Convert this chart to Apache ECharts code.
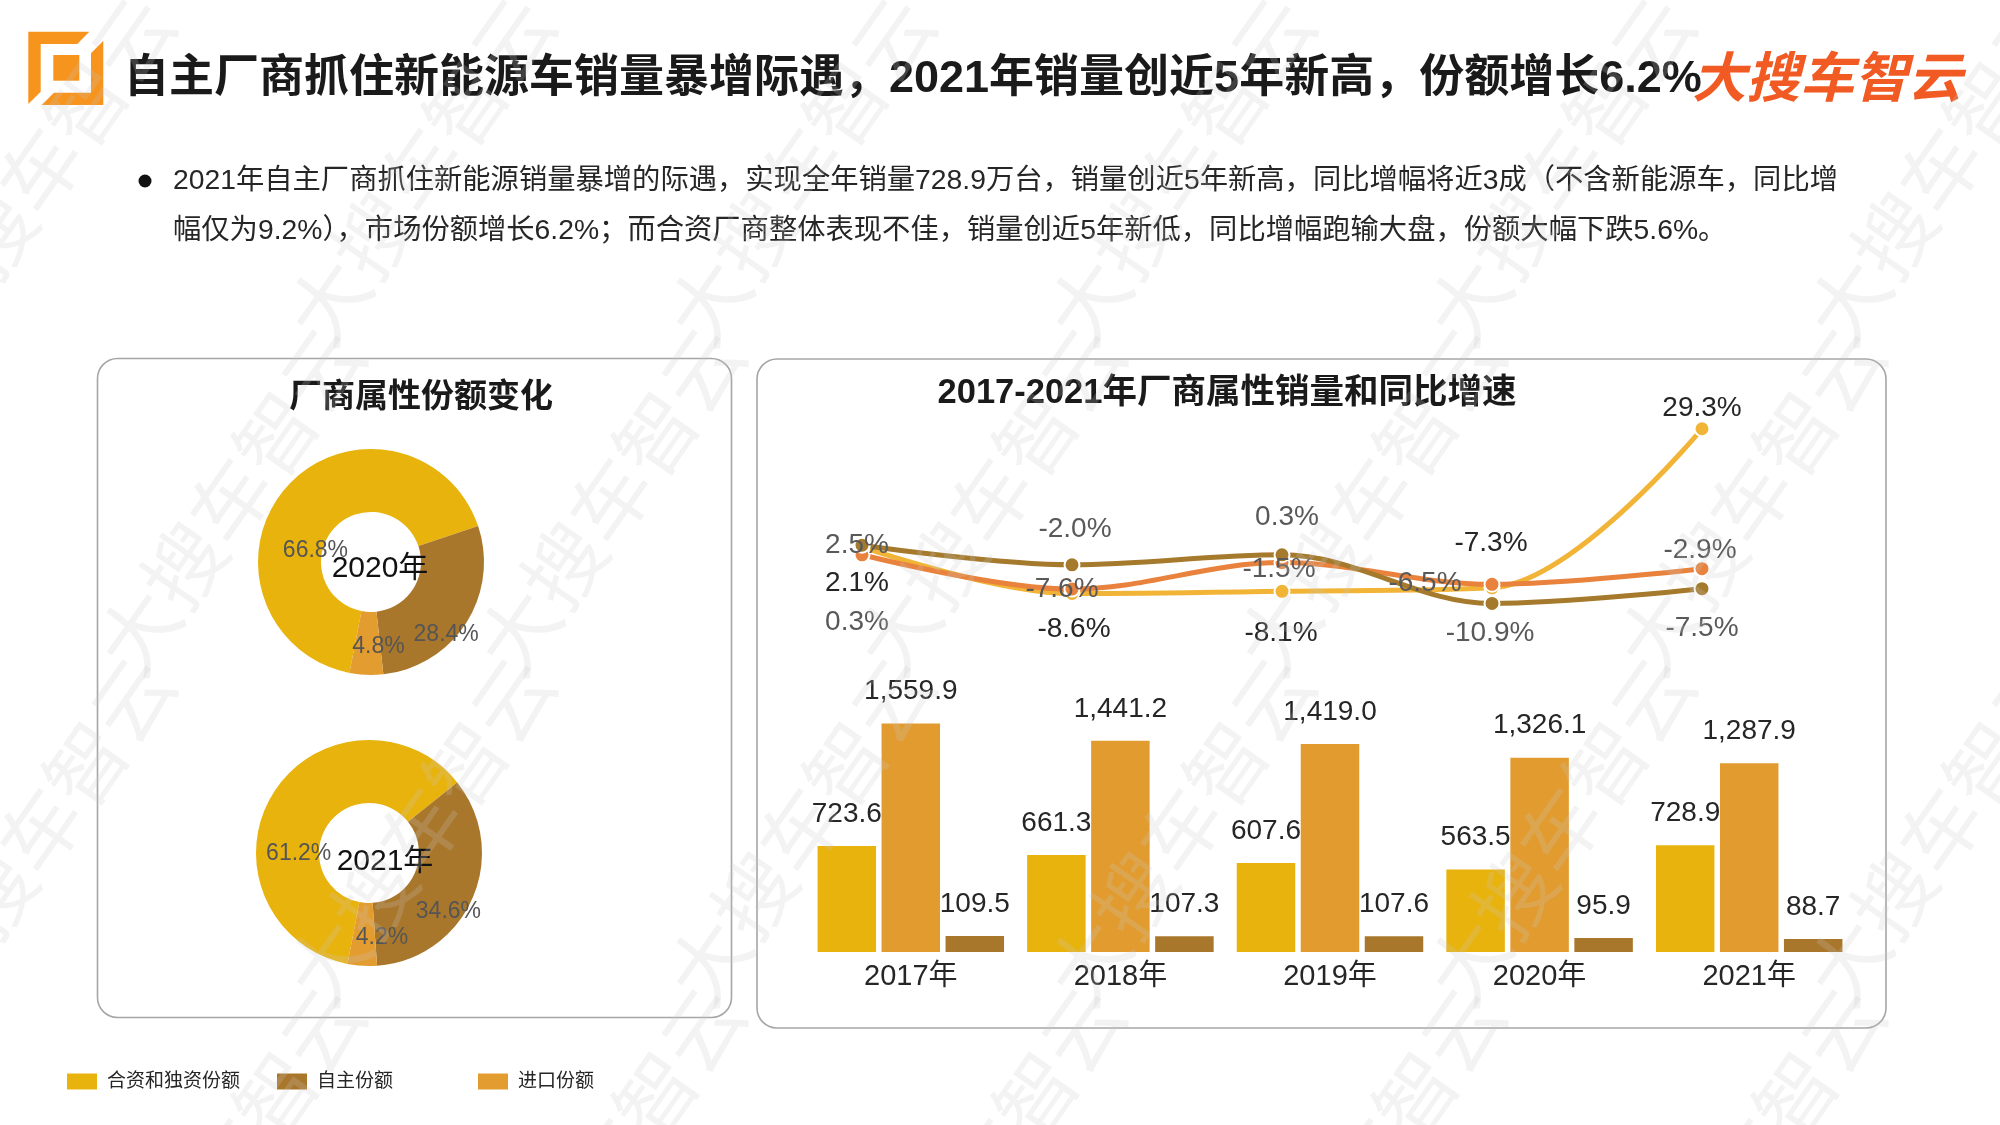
<!DOCTYPE html>
<html><head><meta charset="utf-8">
<script src="https://cdn.jsdelivr.net/npm/echarts/dist/echarts.min.js"></script>
<style>html,body{margin:0;padding:0;background:#fff}#c{width:2000px;height:1125px}</style>
</head><body><div id="c"></div>
<script>
// ---------- data ----------
const years = ['2017年', '2018年', '2019年', '2020年', '2021年'];
const salesDomestic = [723.6, 661.3, 607.6, 563.5, 728.9];      // 自主
const salesJV = [1559.9, 1441.2, 1419.0, 1326.1, 1287.9];       // 合资
const salesImport = [109.5, 107.3, 107.6, 95.9, 88.7];          // 进口
const growthDomestic = [2.1, -8.6, -8.1, -7.3, 29.3];
const growthJV = [0.3, -7.6, -1.5, -6.5, -2.9];
const growthImport = [2.5, -2.0, 0.3, -10.9, -7.5];
const shareNames = ['合资和独资份额', '自主份额', '进口份额'];
const share2020 = [66.8, 28.4, 4.8];
const share2021 = [61.2, 34.6, 4.2];
const headline = '自主厂商抓住新能源车销量暴增际遇，2021年销量创近5年新高，份额增长6.2%';
const bodyLine1 = '2021年自主厂商抓住新能源销量暴增的际遇，实现全年销量728.9万台，销量创近5年新高，同比增幅将近3成（不含新能源车，同比增';
const bodyLine2 = '幅仅为9.2%），市场份额增长6.2%；而合资厂商整体表现不佳，销量创近5年新低，同比增幅跑输大盘，份额大幅下跌5.6%。';

// ---------- styling / layout ----------
const FONT = "'Liberation Sans','Noto Sans CJK SC',sans-serif";
const C_YEL = '#E8B30C', C_ORG = '#E29B2E', C_BRN = '#A9772B';
const L_YEL = '#F2B436', L_ORG = '#E8823C', L_BRN = '#A57A2C';
const shareColors = [C_YEL, C_BRN, '#E39C30'];

// label offsets (pixels) for line points
const offY = [[-5, 36], [2, 36], [-1, 42], [-1, -45], [0, -20]];
const offO = [[-5, 67], [-10, 0], [-3, 7], [-67, -1], [-2, -18]];
const offB = [[-5, 0], [3, -36], [5, -38], [-2, 30], [0, 40]];
// pie label shifts from the default inside position
const pieOff2020 = [[8, 44], [4, 27], [11, 0]];
const pieOff2021 = [[2, 44], [2, 25], [18, 0]];

function lineSeries(name, vals, color, offs, labelColor) {
  return {
    name: name, type: 'line', xAxisIndex: 0, yAxisIndex: 0, smooth: 0.35,
    symbol: 'circle', symbolSize: 15,
    lineStyle: { width: 5, color: color },
    itemStyle: { color: color, borderColor: '#fff', borderWidth: 2 },
    data: vals.map((v, i) => ({
      value: v,
      label: { show: true, position: 'inside', offset: offs[i] }
    })),
    label: {
      show: true, fontSize: 28, fontFamily: FONT, color: labelColor,
      formatter: p => p.value.toFixed(1) + '%'
    },
    z: 3
  };
}

function barSeries(name, vals, color) {
  return {
    name: name, type: 'bar', xAxisIndex: 1, yAxisIndex: 1,
    barWidth: 58.5, barGap: '9.4%',
    itemStyle: { color: color },
    label: {
      show: true, position: 'top', distance: 18, fontSize: 28, fontFamily: FONT, color: '#262626',
      formatter: p => p.value.toLocaleString('en-US', { minimumFractionDigits: 1, maximumFractionDigits: 1 })
    },
    data: vals
  };
}

function pieSeries(vals, center, offs) {
  return {
    type: 'pie', radius: [50, 113], center: center, startAngle: 259, clockwise: true,
    silent: true, labelLine: { show: false },
    data: vals.map((v, i) => ({
      name: shareNames[i], value: v,
      itemStyle: { color: shareColors[i] }
    })),
    label: {
      show: true, position: 'inside', fontSize: 23, fontFamily: FONT, color: '#555555',
      formatter: p => p.value.toFixed(1) + '%'
    },
    labelLayout: p => ({ dx: offs[p.dataIndex][0], dy: offs[p.dataIndex][1] })
  };
}

// watermark tiles
const wm = [];
for (let r = 0; r < 4; r++) {
  for (let c = 0; c < 6; c++) {
    wm.push({
      type: 'text', x: 40 + c * 380 + (r % 2) * 190, y: 170 + r * 330,
      rotation: 55 * Math.PI / 180, silent: true, z: 100,
      style: {
        text: '大搜车智云', fontSize: 80, fontWeight: 'normal', fontFamily: "'Noto Sans CJK SC'",
        fill: 'rgba(200,200,200,0.22)', textAlign: 'center', textVerticalAlign: 'middle', verticalAlign: 'middle'
      }
    });
  }
}

const option = {
  backgroundColor: '#ffffff',
  animation: false,
  textStyle: { fontFamily: FONT },
  title: [
    { text: '厂商属性份额变化', left: 416, top: 393, textAlign: 'center', textVerticalAlign: 'middle',
      textStyle: { fontSize: 33, fontWeight: 'bold', color: '#1a1a1a', fontFamily: FONT } },
    { text: '2017-2021年厂商属性销量和同比增速', left: 1222, top: 388, textAlign: 'center', textVerticalAlign: 'middle',
      textStyle: { fontSize: 34.5, fontWeight: 'bold', color: '#1a1a1a', fontFamily: FONT } },
    { text: '2020年', left: 375, top: 564, textAlign: 'center', textVerticalAlign: 'middle',
      textStyle: { fontSize: 30, fontWeight: 'normal', color: '#111', fontFamily: FONT } },
    { text: '2021年', left: 380, top: 857, textAlign: 'center', textVerticalAlign: 'middle',
      textStyle: { fontSize: 30, fontWeight: 'normal', color: '#111', fontFamily: FONT } }
  ],
  legend: [
    { data: [shareNames[0]], left: 67, top: 1072 },
    { data: [shareNames[1]], left: 277, top: 1072 },
    { data: [shareNames[2]], left: 478, top: 1072 }
  ].map(l => Object.assign(l, {
    icon: 'rect', itemWidth: 30, itemHeight: 16, selectedMode: false, padding: 0,
    textStyle: { fontSize: 19, color: '#262626', fontFamily: FONT, padding: [0, 0, 0, 5] }
  })),
  grid: [
    { left: 757, top: 404, width: 1050, height: 239 },
    { left: 806, top: 659, width: 1048, height: 293 }
  ],
  xAxis: [
    { type: 'category', gridIndex: 0, data: years, boundaryGap: true, show: false },
    { type: 'category', gridIndex: 1, data: years, boundaryGap: true,
      axisLine: { show: false }, axisTick: { show: false },
      axisLabel: { fontSize: 29, color: '#262626', margin: 10, fontFamily: FONT } }
  ],
  yAxis: [
    { type: 'value', gridIndex: 0, min: -20, max: 35, show: false, splitLine: { show: false } },
    { type: 'value', gridIndex: 1, min: 0, max: 2000, show: false, splitLine: { show: false } }
  ],
  series: [
    barSeries('自主销量', salesDomestic, C_YEL),
    barSeries('合资销量', salesJV, C_ORG),
    barSeries('进口销量', salesImport, C_BRN),
    lineSeries('自主增速', growthDomestic, L_YEL, offY, '#262626'),
    lineSeries('合资增速', growthJV, L_ORG, offO, '#595959'),
    lineSeries('进口增速', growthImport, L_BRN, offB, '#595959'),
    pieSeries(share2020, [371, 562], pieOff2020),
    pieSeries(share2021, [369, 853], pieOff2021)
  ],
  graphic: [
    // panels
    { type: 'rect', shape: { x: 97.5, y: 358.5, width: 634, height: 659, r: 20 }, z: -5,
      style: { fill: '#fff', stroke: '#a6a6a6', lineWidth: 1.6 } },
    { type: 'rect', shape: { x: 757, y: 359, width: 1129, height: 669, r: 20 }, z: -5,
      style: { fill: '#fff', stroke: '#a6a6a6', lineWidth: 1.6 } },
    // logo mark
    { type: 'polygon', shape: { points: [[28.3, 31.7], [89.3, 31.7], [77.3, 44], [40.7, 44], [40.7, 91.7], [28.3, 104]] },
      style: { fill: '#F7941D' } },
    { type: 'polygon', shape: { points: [[103.3, 40.7], [103.3, 105], [41.7, 105], [54, 92.7], [91, 92.7], [91, 53.3]] },
      style: { fill: '#F7941D' } },
    { type: 'rect', shape: { x: 53.3, y: 55, width: 26, height: 25.7 }, style: { fill: '#F7941D' } },
    // headline
    { type: 'text', x: 124, y: 80, style: { text: headline, fontSize: 45, fontWeight: 'bold', fontFamily: FONT,
      fill: '#1a1a1a', textVerticalAlign: 'middle', verticalAlign: 'middle' } },
    // brand
    { type: 'text', x: 1962, y: 76, style: { text: '大搜车智云', fontSize: 54, fontWeight: 'bold', fontStyle: 'italic',
      fontFamily: "'Noto Sans CJK SC'", fill: '#F15A22', textAlign: 'right', textVerticalAlign: 'middle', verticalAlign: 'middle' } },
    // bullet
    { type: 'circle', shape: { cx: 145, cy: 181, r: 6.5 }, style: { fill: '#111' } },
    { type: 'text', x: 173, y: 181, style: { text: bodyLine1, fontSize: 28.3, fontFamily: FONT, fill: '#262626',
      textVerticalAlign: 'middle', verticalAlign: 'middle' } },
    { type: 'text', x: 173, y: 231, style: { text: bodyLine2, fontSize: 28.3, fontFamily: FONT, fill: '#262626',
      textVerticalAlign: 'middle', verticalAlign: 'middle' } }
  ].concat(wm)
};

const chart = echarts.init(document.getElementById('c'), null, { renderer: 'canvas', width: 2000, height: 1125 });
chart.setOption(option);
</script>
</body></html>
